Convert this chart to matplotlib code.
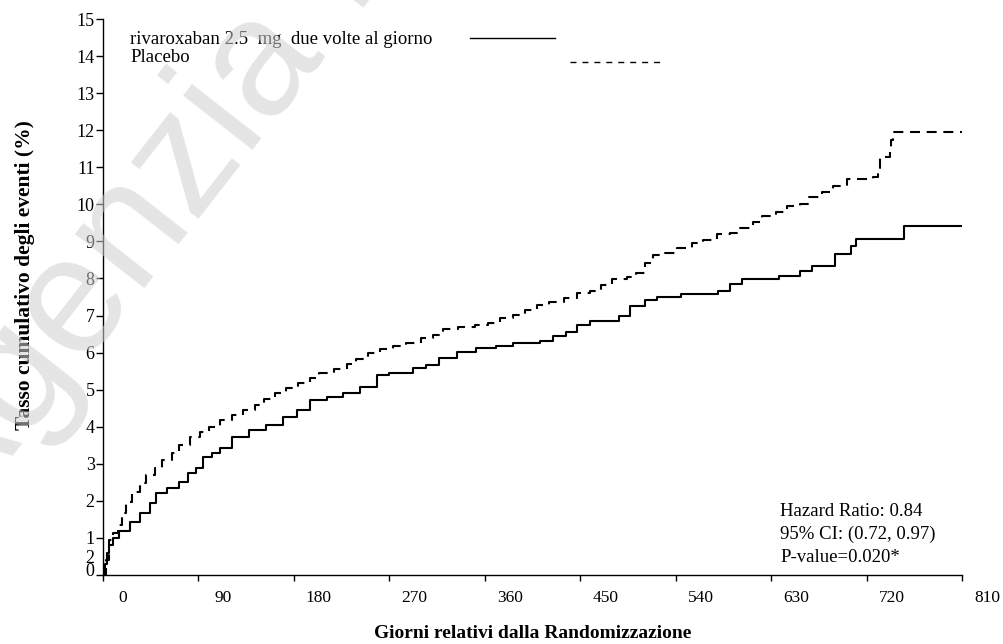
import matplotlib
matplotlib.use("Agg")
import matplotlib.pyplot as plt
import matplotlib.transforms as mtransforms

plt.rcParams['font.family'] = ['Liberation Serif', 'DejaVu Serif']

# ---- data ----
riva_days = [0, 2, 4, 6, 9, 15, 25, 35, 44, 50, 60, 72, 80, 88, 94, 103, 110, 122,
             138, 154, 170, 183, 195, 211, 226, 242, 258, 270, 292, 305, 317, 334,
             352, 371, 387, 412, 424, 437, 447, 459, 487, 497, 511, 522, 545, 580,
             591, 603, 637, 657, 669, 690, 705, 710, 755, 810]
riva_vals = [0, 0.3, 0.6, 0.8, 1.0, 1.2, 1.43, 1.68, 1.94, 2.2, 2.35, 2.5, 2.75, 2.9,
             3.18, 3.3, 3.43, 3.72, 3.91, 4.05, 4.26, 4.45, 4.72, 4.8, 4.91, 5.07,
             5.4, 5.45, 5.58, 5.66, 5.85, 6.02, 6.12, 6.18, 6.26, 6.31, 6.45, 6.56,
             6.74, 6.85, 6.99, 7.26, 7.42, 7.5, 7.58, 7.65, 7.85, 7.98, 8.07, 8.2,
             8.33, 8.66, 8.87, 9.06, 9.41, 9.41]

plac_days = [0, 3, 6, 9, 14, 18, 22, 27, 35, 41, 49, 56, 65, 72, 82, 91, 100, 110,
             122, 132, 143, 152, 162, 173, 184, 195, 204, 218, 230, 239, 250, 261,
             273, 286, 300, 311, 321, 335, 351, 363, 374, 387, 398, 409, 421, 435,
             447, 459, 470, 480, 494, 503, 511, 519, 530, 541, 555, 566, 579, 591,
             601, 613, 621, 635, 645, 657, 666, 678, 688, 702, 726, 731, 733, 742,
             743, 745, 810]
plac_vals = [0, 0.4, 0.95, 1.13, 1.35, 1.67, 1.97, 2.24, 2.48, 2.7, 2.9, 3.1, 3.3,
             3.5, 3.72, 3.86, 4.0, 4.18, 4.32, 4.45, 4.59, 4.75, 4.91, 5.04, 5.18,
             5.32, 5.45, 5.56, 5.69, 5.83, 5.99, 6.1, 6.18, 6.26, 6.39, 6.47, 6.64,
             6.69, 6.74, 6.8, 6.93, 7.01, 7.15, 7.28, 7.36, 7.47, 7.61, 7.66, 7.82,
             7.98, 8.04, 8.15, 8.42, 8.63, 8.7, 8.82, 8.95, 9.04, 9.2, 9.23, 9.36,
             9.52, 9.68, 9.79, 9.95, 10.0, 10.2, 10.33, 10.5, 10.68, 10.73, 10.98,
             11.28, 11.46, 11.73, 11.95, 11.95]

x_ticks = [0, 90, 180, 270, 360, 450, 540, 630, 720, 810]
y_ticks = list(range(0, 16))

label_riva = "rivaroxaban 2.5  mg  due volte al giorno"
label_plac = "Placebo"
stats_lines = ["Hazard Ratio: 0.84", "95% CI: (0.72, 0.97)", "P-value=0.020*"]
xlabel = "Giorni relativi dalla Randomizzazione"
ylabel = "Tasso cumulativo degli eventi (%)"
watermark = "Agenzia Italiana del Farmaco"

# ---- figure ----
W, H = 1004, 644
fig = plt.figure(figsize=(W / 100, H / 100), dpi=100)
px = lambda dx, dy: mtransforms.ScaledTranslation(dx / 100, dy / 100, fig.dpi_scale_trans)

ax = fig.add_axes([103 / W, 1 - 575 / H, (962 - 103) / W, (575 - 19) / H])
ax.patch.set_alpha(0)
ax.set_xlim(0, 810)
ax.set_ylim(0, 15)

ax.plot(riva_days, riva_vals, drawstyle='steps-post', color='black', lw=1.5)
ax.plot(plac_days, plac_vals, drawstyle='steps-post', color='black', lw=1.5,
        dashes=(4.8, 3.2))

for s in ['top', 'right']:
    ax.spines[s].set_visible(False)
for s in ['left', 'bottom']:
    ax.spines[s].set_linewidth(1.0)

ax.set_xticks(x_ticks)
ax.set_xticklabels([str(v) for v in x_ticks])
ax.set_yticks(y_ticks)
ax.set_yticklabels([str(v) for v in y_ticks])
ax.set_yticks([0.5], minor=True)
ax.set_yticklabels(["2"], minor=True)
ax.tick_params(axis='y', which='minor', length=0, pad=6, labelsize=13)
ax.tick_params(axis='x', direction='out', length=4, width=1, pad=7, labelsize=12.5)
ax.tick_params(axis='y', which='major', direction='out', length=5, width=1, pad=1,
               labelsize=13)

# shift tick labels like the reference
for i, lab in enumerate(ax.get_xticklabels()):
    lab.set_transform(lab.get_transform() + px(20 if i == 0 else 25, 0))
ylabs = ax.get_yticklabels()
ylabs[0].set_transform(ylabs[0].get_transform() + px(0, 6))

ax.set_xlabel(xlabel, fontsize=14, fontweight='bold', va='center')
ax.xaxis.set_label_coords(0.5, -(633 - 575) / 556)
ax.set_ylabel(ylabel, fontsize=15.5, fontweight='bold', va='center')
ax.yaxis.set_label_coords((25 - 103) / 859, (575 - 275) / 556)

# legend (hand-drawn as in the reference)
fig.text(130 / W, 1 - 40 / H, label_riva, fontsize=13.5, ha='left', va='center')
fig.text(130 / W, 1 - 58 / H, label_plac, fontsize=13.5, ha='left', va='center')
fig.add_artist(plt.Line2D([470 / W, 555 / W], [1 - 38 / H, 1 - 38 / H],
                          color='black', lw=1.0))
fig.add_artist(plt.Line2D([570 / W, 662 / W], [1 - 62 / H, 1 - 62 / H],
                          color='black', lw=1.0, dashes=(4.3, 4.3)))

# stats
for i, s in enumerate(stats_lines):
    fig.text(780 / W, 1 - (511 + 23 * i) / H, s, fontsize=13.5, ha='left', va='center')

# watermark drawn over the chart, semi-transparent
fig.text(-45 / W, 1 - 530 / H, watermark, fontsize=120, color='#cfcfcf',
         alpha=0.55, rotation=52, rotation_mode='anchor', ha='left', va='baseline',
         zorder=10, family=['Liberation Sans', 'DejaVu Sans'])

fig.savefig("out.png", dpi=100)
